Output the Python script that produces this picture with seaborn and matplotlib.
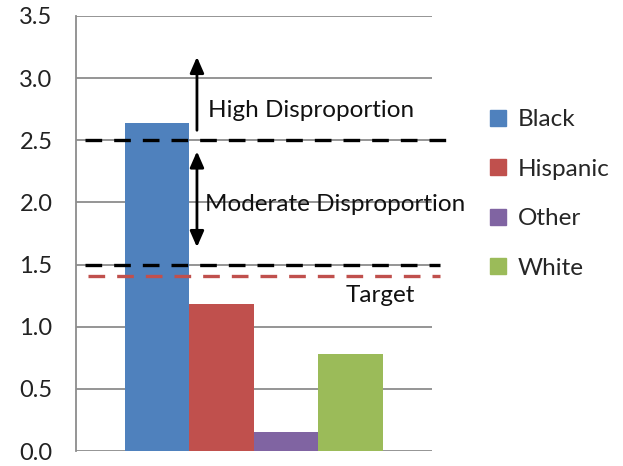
import matplotlib
matplotlib.use("Agg")
import matplotlib.pyplot as plt
import seaborn as sns
import pandas as pd
from matplotlib.lines import Line2D

# Disproportionality index by group
groups = ["Black", "Hispanic", "Other", "White"]
index_values = [2.64, 1.18, 0.155, 0.78]
colors = ["#4F81BD", "#C0504D", "#8064A2", "#9BBB59"]

# Reference levels
high_level = 2.5
moderate_level = 1.5
target_level = 1.41

yticks = [0.0, 0.5, 1.0, 1.5, 2.0, 2.5, 3.0, 3.5]

sns.set_theme(style="white")
plt.rcParams["font.family"] = ["Lato", "DejaVu Sans"]

df = pd.DataFrame({"cat": [""] * len(groups), "group": groups, "value": index_values})

fig = plt.figure(figsize=(6.23, 4.66), dpi=100)
ax = fig.add_axes([0.122, 0.032, 0.571, 0.934])

sns.barplot(data=df, x="cat", y="value", hue="group", hue_order=groups,
            palette=colors, width=0.725, dodge=True, saturation=1,
            linewidth=0, legend=False, ax=ax, zorder=3)

ax.set_xlim(-0.5, 0.5)
ax.set_ylim(0, 3.5)
ax.set_yticks(yticks)
ax.set_yticklabels([f"{t:.1f}" for t in yticks], fontsize=17, color="#222222")
ax.set_xticks([])
ax.set_xlabel("")
ax.set_ylabel("")
ax.tick_params(axis="y", length=0, pad=17)

for y in yticks:
    ax.axhline(y, color="#8c8c8c", lw=1.3, zorder=1)
for side in ["top", "right", "bottom"]:
    ax.spines[side].set_visible(False)
ax.spines["left"].set_color("#8c8c8c")
ax.spines["left"].set_linewidth(1.3)

# Threshold lines
ax.plot([-0.475, 0.556], [high_level, high_level], color="black", lw=2.4,
        dashes=(5.0, 3.6), clip_on=False, zorder=4)
ax.plot([-0.475, 0.522], [moderate_level, moderate_level], color="black", lw=2.4,
        dashes=(5.0, 3.6), clip_on=False, zorder=4)
ax.plot([-0.466, 0.522], [target_level, target_level], color="#C0504D", lw=2.4,
        dashes=(5.0, 3.6), clip_on=False, zorder=4)

# Arrows marking the bands
arrow_x = -0.16
ax.annotate("", xy=(arrow_x, 3.17), xytext=(arrow_x, 2.58),
            arrowprops=dict(arrowstyle="-|>,head_length=0.8,head_width=0.35",
                            color="black", lw=2, shrinkA=0, shrinkB=0), zorder=5)
ax.annotate("", xy=(arrow_x, 1.64), xytext=(arrow_x, 2.41),
            arrowprops=dict(arrowstyle="<|-|>,head_length=0.8,head_width=0.35",
                            color="black", lw=2, shrinkA=0, shrinkB=0), zorder=5)

ax.text(-0.13, 2.74, "High Disproportion", fontsize=17.5, color="#111111",
        ha="left", va="center", zorder=6)
ax.text(-0.136, 1.98, "Moderate Disproportion", fontsize=17.5, color="#111111",
        ha="left", va="center", zorder=6, clip_on=False)
ax.text(0.355, 1.255, "Target", fontsize=17.5, color="#111111",
        ha="center", va="center", zorder=6)

# Legend
handles = [Line2D([], [], marker="s", linestyle="", markersize=11,
                  markerfacecolor=c, markeredgecolor=c) for c in colors]
fig.legend(handles, groups, loc="upper left", bbox_to_anchor=(0.745, 0.812),
           frameon=False, fontsize=17.5, handletextpad=0.3, labelspacing=1.17,
           handlelength=1.0)

fig.savefig("out.png", dpi=100)
